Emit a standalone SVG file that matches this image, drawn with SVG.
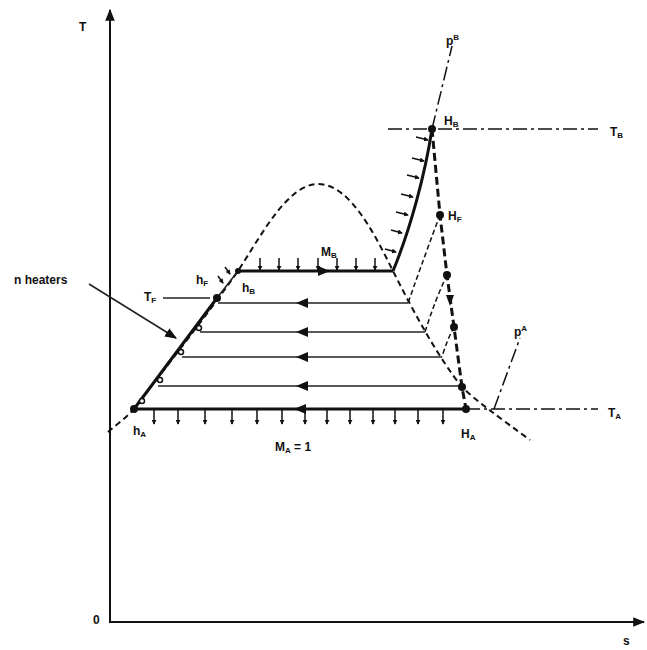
<svg xmlns="http://www.w3.org/2000/svg" width="647" height="650" viewBox="0 0 647 650">
<defs>
<style>
.ax{stroke:#111;stroke-width:2;fill:none}
.dome{stroke:#111;stroke-width:2;fill:none;stroke-dasharray:6 4}
.thick{stroke:#111;stroke-width:3;fill:none}
.hl{stroke:#222;stroke-width:1.6;fill:none}
.tick{stroke:#111;stroke-width:1.5;fill:none;marker-end:url(#sm)}
.dd{stroke:#111;stroke-width:1.5;fill:none;stroke-dasharray:14 4 3 4}
.exp{stroke:#111;stroke-width:3;fill:none;stroke-dasharray:8 4}
.ext{stroke:#111;stroke-width:1.5;fill:none;stroke-dasharray:5 3}
.lbl{font-family:"Liberation Sans",Arial,sans-serif;font-weight:bold;font-size:12px;fill:#111}
.sub{font-size:8px}
.dot{fill:#111}
.oc{fill:#fff;stroke:#111;stroke-width:1.5}
</style>
<marker id="sm" viewBox="0 0 6 6" refX="5" refY="3" markerWidth="5" markerHeight="5" orient="auto" markerUnits="userSpaceOnUse">
<path d="M0,0 L6,3 L0,6 Z" fill="#111"/>
</marker>
<marker id="big" viewBox="0 0 10 10" refX="9" refY="5" markerWidth="12" markerHeight="12" orient="auto" markerUnits="userSpaceOnUse">
<path d="M0,1 L10,5 L0,9 Z" fill="#111"/>
</marker>
</defs>

<g id="axes">
<line class="ax" x1="110" y1="622" x2="110" y2="10" marker-end="url(#big)"/>
<line class="ax" x1="109" y1="622" x2="644" y2="622" marker-end="url(#big)"/>
<text class="lbl" x="79" y="31">T</text>
<text class="lbl" x="93" y="624">0</text>
<text class="lbl" x="623" y="645">s</text>
</g>

<g id="dome">
<path class="dome" d="M108,432 C116,425 126,418 134,409 C165,368 205,318 238,271 C262,234 288,184 318,184 C350,184 375,235 393,271 C415,315 440,360 462,387 C475,400 500,418 530,440"/>
</g>

<g id="connectors">
<path class="thick" d="M134,409 L217,298" stroke-width="4"/>
<path class="hl" d="M217,298 L238,271" stroke-width="2"/>
<line class="tick" x1="218" y1="276" x2="223" y2="283"/>
<line class="tick" x1="225" y1="267" x2="230" y2="274"/>
<line class="thick" x1="238" y1="271" x2="393" y2="271" stroke-width="2.5"/>
<path class="thick" d="M393,271 C410,230 425,175 432,129"/>
<line class="hl" x1="408" y1="303" x2="218" y2="303"/>
<line class="hl" x1="425" y1="332" x2="200" y2="332"/>
<line class="hl" x1="442" y1="357" x2="182" y2="357"/>
<line class="hl" x1="462" y1="386" x2="158" y2="386"/>
<line class="thick" x1="466" y1="409" x2="134" y2="409" stroke-width="2.5"/>
<path d="M330,271 L318,266 L318,276 Z" fill="#111"/>
<path d="M296,303 L308,298 L308,308 Z" fill="#111"/>
<path d="M296,332 L308,327 L308,337 Z" fill="#111"/>
<path d="M296,357 L308,352 L308,362 Z" fill="#111"/>
<path d="M296,386 L308,381 L308,391 Z" fill="#111"/>
<path d="M294,409 L306,404 L306,414 Z" fill="#111"/>
<g>
<line class="tick" x1="260" y1="258" x2="260" y2="270"/>
<line class="tick" x1="279" y1="258" x2="279" y2="270"/>
<line class="tick" x1="298" y1="258" x2="298" y2="270"/>
<line class="tick" x1="318" y1="258" x2="318" y2="270"/>
<line class="tick" x1="337" y1="258" x2="337" y2="270"/>
<line class="tick" x1="356" y1="258" x2="356" y2="270"/>
<line class="tick" x1="375" y1="258" x2="375" y2="270"/>
</g>
<g>
<line class="tick" x1="416" y1="137" x2="428" y2="140"/>
<line class="tick" x1="412" y1="158" x2="424" y2="161"/>
<line class="tick" x1="407" y1="175" x2="419" y2="178"/>
<line class="tick" x1="401" y1="194" x2="413" y2="197"/>
<line class="tick" x1="396" y1="212" x2="408" y2="215"/>
<line class="tick" x1="391" y1="230" x2="402" y2="233"/>
<line class="tick" x1="385" y1="249" x2="396" y2="252"/>
</g>
<g>
<line class="tick" x1="154" y1="410" x2="154" y2="424"/>
<line class="tick" x1="178" y1="410" x2="178" y2="424"/>
<line class="tick" x1="205" y1="410" x2="205" y2="424"/>
<line class="tick" x1="232" y1="410" x2="232" y2="424"/>
<line class="tick" x1="257" y1="410" x2="257" y2="424"/>
<line class="tick" x1="282" y1="410" x2="282" y2="424"/>
<line class="tick" x1="305" y1="410" x2="305" y2="424"/>
<line class="tick" x1="327" y1="410" x2="327" y2="424"/>
<line class="tick" x1="350" y1="410" x2="350" y2="424"/>
<line class="tick" x1="373" y1="410" x2="373" y2="424"/>
<line class="tick" x1="395" y1="410" x2="395" y2="424"/>
<line class="tick" x1="418" y1="410" x2="418" y2="424"/>
<line class="tick" x1="443" y1="410" x2="443" y2="424"/>
</g>
<path class="exp" d="M432,129 L440,215 L447,275 L454,327 L462,387 L466,409"/>
<path d="M450,306 L446,295 L454,295 Z" fill="#111"/>
<path class="ext" d="M440,215 Q426,252 408,303"/>
<path class="ext" d="M447,275 Q435,300 425,332"/>
<path class="ext" d="M454,327 Q447,340 442,357"/>
<line class="dd" x1="432" y1="129" x2="452" y2="46"/>
<line class="dd" x1="494" y1="409" x2="520" y2="338"/>
<line class="dd" x1="388" y1="129" x2="598" y2="129"/>
<line class="dd" x1="466" y1="409" x2="598" y2="409"/>
<line class="hl" x1="163" y1="298" x2="210" y2="298" stroke-width="1.5"/>
<line class="hl" x1="89" y1="284" x2="176" y2="338" stroke-width="1.5" marker-end="url(#big)"/>
</g>

<g id="points">
<circle class="dot" cx="134" cy="409" r="4"/>
<circle class="dot" cx="217" cy="298" r="4"/>
<circle class="dot" cx="238" cy="271" r="3"/>
<circle class="oc" cx="199" cy="328" r="2.5"/>
<circle class="oc" cx="181" cy="352" r="2.5"/>
<circle class="oc" cx="160" cy="380" r="2.5"/>
<circle class="oc" cx="142" cy="401" r="2.5"/>
<circle class="dot" cx="432" cy="129" r="4"/>
<circle class="dot" cx="440" cy="215" r="4"/>
<circle class="dot" cx="447" cy="275" r="4"/>
<circle class="dot" cx="454" cy="327" r="4"/>
<circle class="dot" cx="462" cy="387" r="4"/>
<circle class="dot" cx="466" cy="409" r="4"/>
</g>

<g id="labels">
<text class="lbl" x="444" y="125">H<tspan class="sub" dy="2">B</tspan></text>
<text class="lbl" x="448" y="220">H<tspan class="sub" dy="2">F</tspan></text>
<text class="lbl" x="321" y="256">M<tspan class="sub" dy="2">B</tspan></text>
<text class="lbl" x="242" y="292">h<tspan class="sub" dy="2">B</tspan></text>
<text class="lbl" x="196" y="284">h<tspan class="sub" dy="2">F</tspan></text>
<text class="lbl" x="144" y="301">T<tspan class="sub" dy="2">F</tspan></text>
<text class="lbl" x="133" y="435">h<tspan class="sub" dy="2">A</tspan></text>
<text class="lbl" x="461" y="438">H<tspan class="sub" dy="2">A</tspan></text>
<text class="lbl" x="275" y="451">M<tspan class="sub" dy="2">A</tspan><tspan dy="-2"> = 1</tspan></text>
<text class="lbl" x="610" y="136">T<tspan class="sub" dy="2">B</tspan></text>
<text class="lbl" x="608" y="417">T<tspan class="sub" dy="2">A</tspan></text>
<text class="lbl" x="446" y="45">p<tspan class="sub" dy="-5">B</tspan></text>
<text class="lbl" x="514" y="336">p<tspan class="sub" dy="-5">A</tspan></text>
<text class="lbl" x="14" y="284">n heaters</text>
</g>
</svg>
